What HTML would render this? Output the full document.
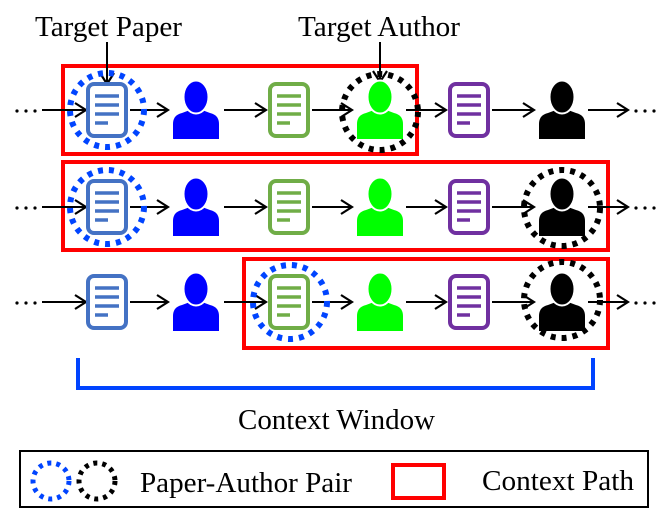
<!DOCTYPE html>
<html><head><meta charset="utf-8"><style>
html,body{margin:0;padding:0;background:#fff}
svg{display:block}
text{font-family:"Liberation Serif",serif;fill:#000}
</style></head><body>
<svg width="664" height="516" viewBox="0 0 664 516" xmlns="http://www.w3.org/2000/svg">
<defs>
<marker id="ah" markerWidth="14" markerHeight="16" refX="12" refY="8" orient="auto" markerUnits="userSpaceOnUse">
<path d="M1,1 L12,8 L1,15" fill="none" stroke="#000" stroke-width="2.2"/>
</marker>
<g id="doc">
<rect x="-19" y="-26" width="38" height="52" rx="6" fill="#fff" stroke-width="4"/>
<g stroke-width="3.5"><line x1="-12" y1="-14" x2="12" y2="-14"/><line x1="-12" y1="-5" x2="12" y2="-5"/><line x1="-12" y1="4" x2="12" y2="4"/><line x1="-12" y1="13" x2="1" y2="13"/></g>
</g>
<g id="per">
<path d="M-23,29 L-23,14 Q-23,5 -14,3 L-6,0 L6,0 L14,3 Q23,5 23,14 L23,29 Z"/>
<ellipse cx="0" cy="-13" rx="12.5" ry="16.5" stroke="#fff" stroke-width="2"/>
</g>
</defs>

<text x="35" y="36" font-size="28" textLength="147" lengthAdjust="spacingAndGlyphs">Target Paper</text>
<text x="298" y="36" font-size="28" textLength="162" lengthAdjust="spacingAndGlyphs">Target Author</text>

<g fill="none" stroke="#f00" stroke-width="4">
<rect x="63" y="66" width="354" height="88"/>
<rect x="63" y="162" width="545" height="88"/>
<rect x="244" y="259" width="364" height="89"/>
</g>

<g stroke="#000" stroke-width="2" marker-end="url(#ah)">
<line x1="42" y1="110" x2="86" y2="110"/><line x1="130" y1="110" x2="168" y2="110"/><line x1="224" y1="110" x2="266" y2="110"/><line x1="312" y1="110" x2="352" y2="110"/><line x1="406" y1="110" x2="446" y2="110"/><line x1="492" y1="110" x2="534" y2="110"/><line x1="588" y1="110" x2="628" y2="110"/>
<line x1="42" y1="207" x2="86" y2="207"/><line x1="130" y1="207" x2="168" y2="207"/><line x1="224" y1="207" x2="266" y2="207"/><line x1="312" y1="207" x2="352" y2="207"/><line x1="406" y1="207" x2="446" y2="207"/><line x1="492" y1="207" x2="534" y2="207"/><line x1="588" y1="207" x2="628" y2="207"/>
<line x1="42" y1="302" x2="86" y2="302"/><line x1="130" y1="302" x2="168" y2="302"/><line x1="224" y1="302" x2="266" y2="302"/><line x1="312" y1="302" x2="352" y2="302"/><line x1="406" y1="302" x2="446" y2="302"/><line x1="492" y1="302" x2="534" y2="302"/><line x1="588" y1="302" x2="628" y2="302"/>
<line x1="107" y1="42" x2="107" y2="84"/><line x1="380" y1="42" x2="380" y2="82"/>
</g>
<g fill="#000">
<circle cx="17" cy="111" r="1.6"/><circle cx="26" cy="111" r="1.6"/><circle cx="35" cy="111" r="1.6"/>
<circle cx="636" cy="111" r="1.6"/><circle cx="645" cy="111" r="1.6"/><circle cx="654" cy="111" r="1.6"/>
<circle cx="17" cy="208" r="1.6"/><circle cx="26" cy="208" r="1.6"/><circle cx="35" cy="208" r="1.6"/>
<circle cx="636" cy="208" r="1.6"/><circle cx="645" cy="208" r="1.6"/><circle cx="654" cy="208" r="1.6"/>
<circle cx="17" cy="303" r="1.6"/><circle cx="26" cy="303" r="1.6"/><circle cx="35" cy="303" r="1.6"/>
<circle cx="636" cy="303" r="1.6"/><circle cx="645" cy="303" r="1.6"/><circle cx="654" cy="303" r="1.6"/>
</g>

<g>
<use href="#doc" x="107" y="110" stroke="#4472c4"/>
<use href="#per" x="196" y="110" fill="#0000ff"/>
<use href="#doc" x="289" y="110" stroke="#70ad47"/>
<use href="#per" x="380" y="110" fill="#00ff00"/>
<use href="#doc" x="469" y="110" stroke="#7030a0"/>
<use href="#per" x="562" y="110" fill="#000"/>

<use href="#doc" x="107" y="207" stroke="#4472c4"/>
<use href="#per" x="196" y="207" fill="#0000ff"/>
<use href="#doc" x="289" y="207" stroke="#70ad47"/>
<use href="#per" x="380" y="207" fill="#00ff00"/>
<use href="#doc" x="469" y="207" stroke="#7030a0"/>
<use href="#per" x="562" y="207" fill="#000"/>

<use href="#doc" x="107" y="302" stroke="#4472c4"/>
<use href="#per" x="196" y="302" fill="#0000ff"/>
<use href="#doc" x="289" y="302" stroke="#70ad47"/>
<use href="#per" x="380" y="302" fill="#00ff00"/>
<use href="#doc" x="469" y="302" stroke="#7030a0"/>
<use href="#per" x="562" y="302" fill="#000"/>
</g>

<g fill="none" stroke-width="6" stroke-dasharray="5 6">
<circle cx="107" cy="110" r="37" stroke="#0044ff"/>
<circle cx="380" cy="112" r="38" stroke="#000"/>
<circle cx="107" cy="207" r="37" stroke="#0044ff"/>
<circle cx="562" cy="208" r="38" stroke="#000"/>
<circle cx="290" cy="302" r="37" stroke="#0044ff"/>
<circle cx="562" cy="300" r="38" stroke="#000"/>
</g>

<path d="M78,358 L78,388 L593,388 L593,358" fill="none" stroke="#0044ff" stroke-width="4"/>
<text x="238" y="429" font-size="28" textLength="197" lengthAdjust="spacingAndGlyphs">Context Window</text>

<rect x="20" y="451" width="628" height="56" fill="none" stroke="#000" stroke-width="2"/>
<g fill="none" stroke-width="5" stroke-dasharray="4 5">
<circle cx="51" cy="481" r="18" stroke="#0044ff"/>
<circle cx="97" cy="481" r="18" stroke="#000"/>
</g>
<text x="140" y="492" font-size="28" textLength="212" lengthAdjust="spacingAndGlyphs">Paper-Author Pair</text>
<rect x="393" y="465" width="51" height="33" fill="none" stroke="#f00" stroke-width="4"/>
<text x="482" y="490" font-size="28" textLength="152" lengthAdjust="spacingAndGlyphs">Context Path</text>
</svg>
</body></html>
